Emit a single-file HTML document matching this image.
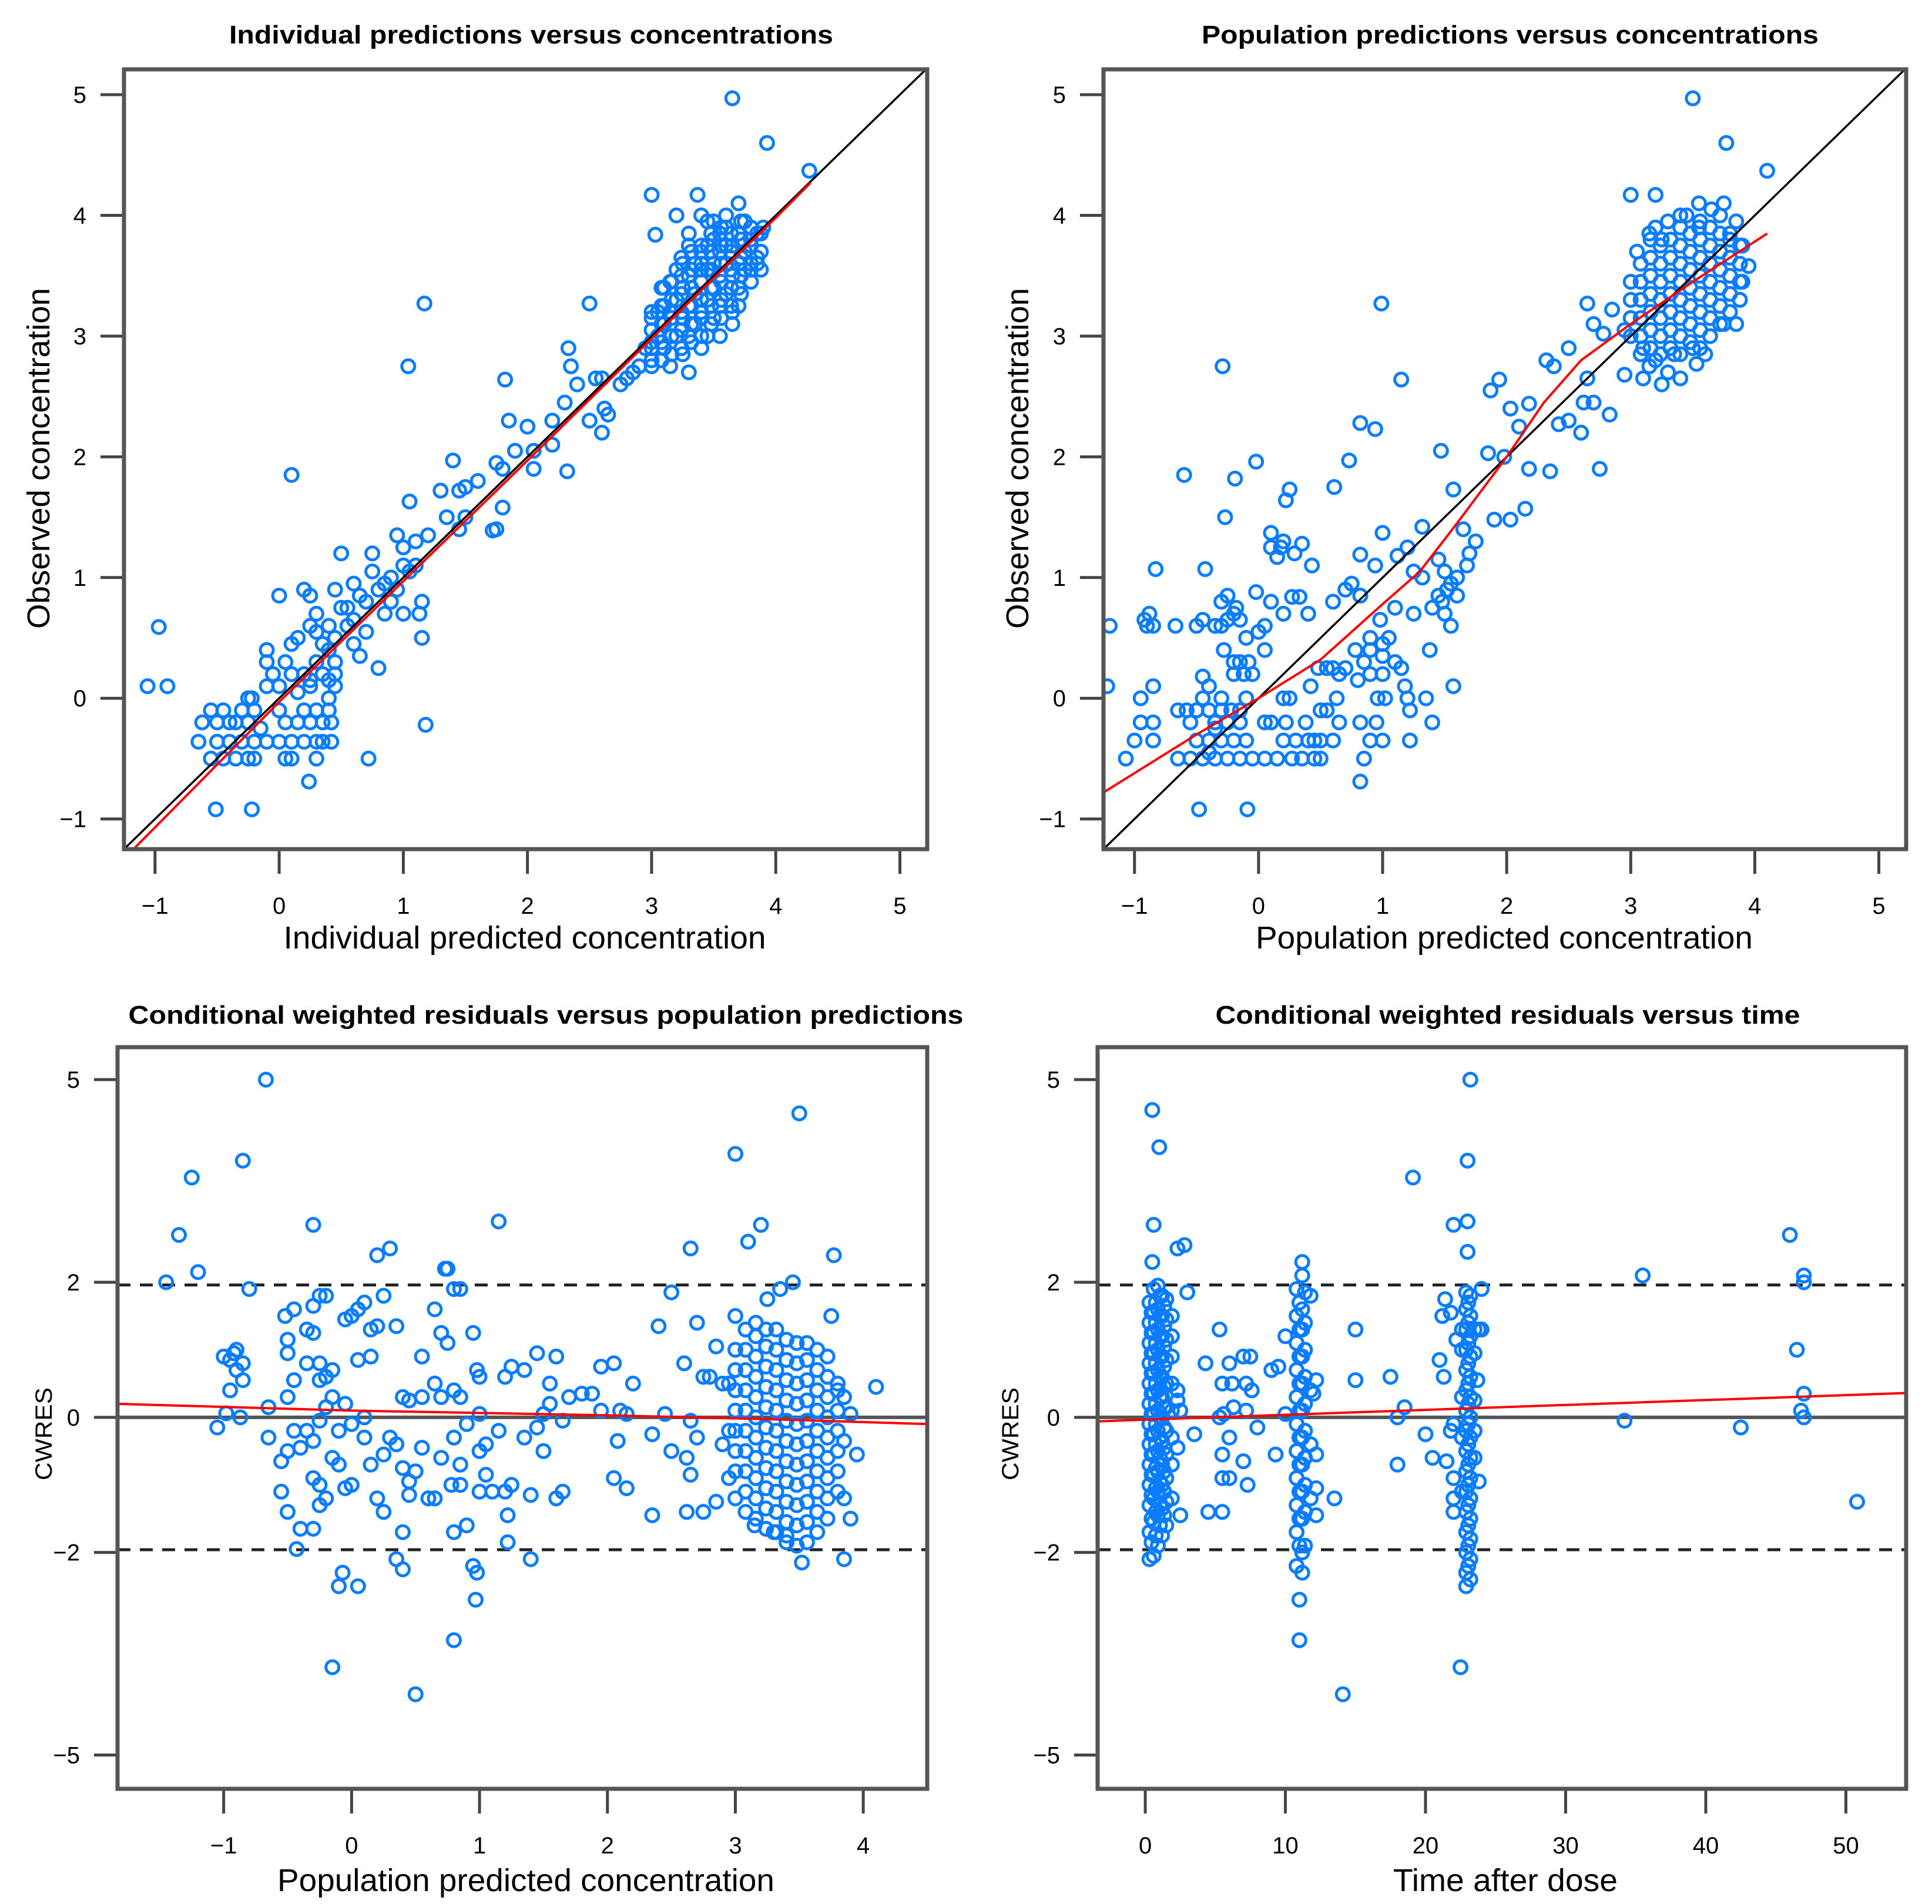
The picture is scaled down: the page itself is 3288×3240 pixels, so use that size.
<!DOCTYPE html>
<html><head><meta charset="utf-8"><title>Diagnostic plots</title>
<style>html,body{margin:0;padding:0;background:#fff}svg{display:block}text{font-family:"Liberation Sans",Arial,sans-serif;fill:#000}</style>
</head><body>
<svg id="chart" xmlns="http://www.w3.org/2000/svg" width="3288" height="3240" viewBox="0 0 3288 3240">
<rect x="0" y="0" width="3288" height="3240" fill="#fff"/>
</svg>
<script>
// ---------- Panel 1: IPRED vs DV ----------
const p1Points = [
[3.0,2.8],[3.05,3.0],[3.1,3.1],[3.1,2.9],[3.15,3.2],[3.2,3.3],[3.2,3.0],[3.25,3.4],[3.25,3.15],[3.3,3.5],[3.3,3.25],[3.3,3.0],[3.35,3.6],[3.35,3.35],[3.35,3.1],[3.4,3.7],[3.4,3.45],[3.4,3.2],[3.45,3.55],[3.45,3.3],[3.45,3.0],[3.5,3.8],[3.5,3.6],[3.5,3.4],[3.5,3.15],[3.55,3.7],[3.55,3.5],[3.55,3.25],[3.6,3.9],[3.6,3.6],[3.6,3.35],[3.65,3.75],[3.65,3.5],[3.65,3.2],[3.7,3.85],[3.7,3.6],[3.7,3.4],[3.75,3.95],[3.75,3.7],[3.8,3.8],[3.8,3.55],[3.85,3.65],[3.9,3.9],[3.2,3.55],[3.15,2.75],[3.25,2.85],[3.4,2.9],[3.3,3.75],[3.45,3.95],[3.6,4.0],[3.55,3.0],[3.65,3.1],[3.0,3.15],[2.95,2.9],[2.9,2.75],[2.85,2.7],[3.1,3.4],[3.2,4.0],[3.7,4.1],[3.85,3.6],[3.4,4.0],[3.05,3.2],[3.3,2.7],[3.45,3.75],[3.15,3.45],[3.3,3.85],[3.5,3.95],[3.55,3.85],[3.75,3.55],[3.85,3.85],[3.4,3.55],[3.25,3.6],[3.6,3.75],[3.7,3.25],[3.1,3.25],[3.0,2.95],
[2.8,2.65],[2.75,2.6],[2.6,2.65],[2.62,2.4],[2.65,2.35],[2.6,2.2],[2.5,2.3],[2.4,2.6],[2.35,2.75],[2.33,2.9],[2.3,2.45],[2.2,2.3],[2.2,2.1],[2.0,2.25],[2.05,1.9],[1.9,2.05],[1.85,2.3],[1.75,1.95],[1.8,1.9],[1.6,1.8],[1.5,1.75],[1.45,1.72],[1.4,1.97],[1.3,1.72],[1.35,1.5],[1.5,1.5],[1.45,1.4],[1.8,1.58],[1.75,1.4],[1.05,1.63],[0.95,1.35],[1.1,1.3],[1.2,1.35],[1.0,1.25],[1.1,1.1],[1.15,0.8],[1.13,0.7],[1.0,0.7],[1.15,0.5],[0.9,1.0],[0.8,0.9],[0.75,1.2],[0.75,1.05],[0.85,0.7],[0.65,0.85],[0.6,0.95],[0.55,0.6],[0.5,0.75],[0.45,0.5],[0.4,0.6],[0.5,1.2],[0.45,0.9],[0.2,0.9],[0.25,0.85],[0.3,0.7],[0.35,0.45],[0.25,0.6],[0.15,0.5],[0.1,0.45],[0.0,0.85],[-0.1,0.4],[0.6,0.45],[0.65,0.35],[0.8,0.25],[0.7,0.55],[0.95,0.9],[1.05,1.05],[0.9,0.8],[0.55,0.75],[0.7,0.8],[0.85,0.95],[1.0,1.1],[0.6,0.65],[0.4,0.4],[0.3,0.55],
[-0.55,-0.5],[-0.45,-0.5],[-0.35,-0.5],[-0.25,-0.5],[-0.2,-0.5],[0.05,-0.5],[0.1,-0.5],[0.3,-0.5],[-0.65,-0.36],[-0.4,-0.36],[-0.3,-0.36],[-0.1,-0.36],[0.0,-0.36],[0.1,-0.36],[0.2,-0.36],[0.3,-0.36],[0.42,-0.36],[-0.62,-0.2],[-0.5,-0.2],[-0.35,-0.2],[-0.25,-0.2],[0.05,-0.2],[0.15,-0.2],[0.35,-0.2],[0.42,-0.2],[-0.55,-0.1],[-0.45,-0.1],[-0.2,-0.1],[0.0,-0.1],[0.2,-0.1],[0.4,-0.1],[-0.25,0.0],[-0.22,0.0],[0.4,0.0],[-0.1,0.1],[0.0,0.1],[0.25,0.1],[0.45,0.1],[-0.05,0.2],[0.1,0.2],[0.2,0.2],[0.35,0.2],[0.45,0.2],[-0.1,0.3],[0.05,0.3],[0.3,0.3],[0.45,0.3],[0.25,0.15],[0.4,0.15],[-0.15,-0.25],[0.15,0.05],[-0.5,-0.36],[-0.2,-0.36],[0.35,-0.36],[-0.4,-0.2],[0.25,-0.2],[-0.3,-0.1],[0.3,-0.1],
[3.65,4.97],[3.93,4.6],[4.27,4.37],[3.0,4.17],[3.37,4.17],[3.03,3.84],[1.17,3.27],[1.04,2.75],[-0.97,0.59],[-1.06,0.1],[-0.9,0.1],[0.1,1.85],[1.18,-0.22],[0.72,-0.5],[-0.51,-0.92],[-0.22,-0.92],[0.24,-0.69],[2.5,3.27],[2.32,1.88],[1.82,2.64],[1.72,1.39],[2.05,2.05],[2.55,2.65]
];
const p1ClusterX = [3.0,3.08,3.16,3.24,3.32,3.4,3.48,3.56,3.64,3.72,3.8,3.88];
const p1ClusterY = [
[2.75,2.9,3.05,3.2],
[2.8,2.95,3.1,3.25,3.4],
[2.85,3.0,3.15,3.3,3.45],
[2.9,3.05,3.2,3.35,3.5,3.65],
[2.95,3.1,3.25,3.4,3.55,3.7],
[3.0,3.15,3.3,3.45,3.6,3.75],
[3.1,3.25,3.4,3.55,3.7,3.85],
[3.15,3.3,3.45,3.6,3.75,3.9],
[3.25,3.4,3.55,3.7,3.85],
[3.35,3.5,3.65,3.8,3.95],
[3.45,3.6,3.75,3.9],
[3.55,3.7,3.85]
];
const p1LoessX = [-1.25, 0, 1, 2, 3, 4, 4.28];
const p1LoessY = [-1.33, -0.03, 0.97, 1.97, 2.98, 3.98, 4.27];

// ---------- Panel 2: PRED vs DV ----------
const p2Points = [
[3.5,4.97],[3.77,4.6],[4.1,4.37],[3.0,4.17],[3.2,4.17],[0.99,3.27],[-0.29,2.75],[1.15,2.64],[-0.6,1.85],[-0.19,1.82],[-0.02,1.96],[-0.27,1.5],[0.82,2.28],[0.94,2.23],[0.73,1.97],[0.61,1.75],[0.25,1.73],[0.22,1.64],[1.47,2.05],[1.57,1.73],[1.94,2.64],[1.87,2.55],[2.03,2.4],[2.18,2.44],[2.1,2.25],[1.85,2.03],[1.98,2.0],[2.18,1.9],[2.35,1.88],[1.9,1.48],[2.03,1.48],[2.15,1.57],[2.75,1.9],[2.83,2.35],[2.6,2.2],[2.62,2.45],[2.7,2.45],[2.5,2.3],[2.42,2.27],[2.32,2.8],[2.38,2.75],[2.5,2.9],[2.65,2.65],[2.65,3.27],[2.7,3.1],[2.78,3.02],[2.85,3.22],[2.95,2.68],[3.1,2.65],[3.25,2.6],[3.4,2.65],[3.53,2.77],[3.85,3.1],[3.95,3.58],
[3.05,3.7],[3.15,3.85],[3.25,3.8],[3.3,3.95],[3.45,4.0],[3.55,3.9],[3.65,4.05],[3.75,4.1],[3.8,3.85],[3.9,3.75],[3.9,3.45],[3.6,2.85],[3.3,2.7],[3.15,2.75],[3.2,2.8],[3.5,2.9],[3.35,2.85],[3.4,4.0],[3.2,3.9],[3.55,4.1],[3.75,3.1],[3.1,2.9],[2.95,3.05],[3.85,3.95],
[0.1,1.37],[0.1,1.25],[0.18,1.25],[0.15,1.17],[0.2,1.3],[0.35,1.28],[0.29,1.2],[0.43,1.1],[0.82,1.19],[0.94,1.1],[1.0,1.37],[1.12,1.18],[1.2,1.25],[1.32,1.42],[1.32,1.0],[1.25,1.05],[1.45,1.15],[1.5,1.05],[1.55,0.95],[1.6,1.0],[1.65,1.4],[1.7,1.2],[1.75,1.3],[1.68,1.1],[1.45,0.85],[1.4,0.75],[1.5,0.7],[1.55,0.6],[1.38,0.4],[1.25,0.7],[1.57,0.1],[1.1,0.75],[0.98,0.65],[0.9,0.5],[1.0,0.45],[1.05,0.5],[0.75,0.95],[0.7,0.9],[0.6,0.8],[0.4,0.7],[0.2,0.7],[0.1,0.8],[-0.02,0.88],[0.27,0.84],[0.33,0.84],[0.82,0.85],[0.85,0.3],[0.78,0.4],[0.65,0.2],[0.7,0.25],[0.55,0.25],[0.48,0.25],[0.8,0.15],[0.9,0.2],[1.0,0.2],[1.15,0.25],[1.18,0.1],[1.2,0.0],[1.35,0.0],[1.02,0.0],[0.96,0.0],[0.25,0.0],[0.2,0.0],[0.42,0.1],[0.6,0.25],[0.9,0.4],[1.0,0.35],[1.1,0.3],[1.22,-0.1],[1.4,-0.2],[0.5,-0.1],[0.55,-0.1],[0.65,-0.2],[0.82,-0.2],[0.95,-0.2],[1.0,-0.35],[0.9,-0.35],[1.22,-0.35],[0.6,-0.35],[0.4,-0.35],[0.3,-0.35],[0.27,-0.5],[0.35,-0.5],[0.45,-0.5],[0.5,-0.5],[0.85,-0.5],[0.82,-0.69],[0.15,-0.5],[0.05,-0.5],[0.1,-0.2],[0.22,-0.2],[0.38,-0.2],[0.45,-0.35],[0.5,-0.35],[0.63,0.0],[0.2,-0.35],[1.52,0.9],[1.48,0.8],[1.6,0.85],
[-1.22,0.1],[-1.2,0.6],[-1.07,-0.5],[-0.9,0.6],[-0.92,0.65],[-0.88,0.7],[-0.85,0.6],[-0.83,1.07],[-0.67,0.6],[-0.43,1.07],[-0.5,0.6],[-0.45,0.65],[-0.35,0.6],[-0.3,0.6],[-0.25,0.65],[-0.2,0.7],[-0.18,0.75],[-0.3,0.8],[-0.25,0.85],[-0.15,0.65],[-0.28,0.4],[-0.1,0.5],[0.0,0.55],[0.05,0.6],[0.05,0.4],[-0.2,0.3],[-0.15,0.3],[-0.08,0.3],[-0.05,0.2],[-0.2,0.2],[-0.12,0.2],[-0.45,0.18],[-0.4,0.1],[-0.85,0.1],[-0.95,0.0],[-0.65,-0.1],[-0.58,-0.1],[-0.5,-0.1],[-0.4,-0.1],[-0.3,-0.1],[-0.22,-0.1],[-0.15,-0.1],[-0.45,0.0],[-0.3,0.0],[-0.1,0.0],[-0.95,-0.2],[-0.85,-0.2],[-0.55,-0.2],[-0.35,-0.2],[-0.25,-0.2],[-0.15,-0.2],[0.05,-0.2],[-1.0,-0.35],[-0.85,-0.35],[-0.5,-0.35],[-0.4,-0.35],[-0.3,-0.35],[-0.2,-0.35],[-0.1,-0.35],[-0.65,-0.5],[-0.55,-0.5],[-0.45,-0.5],[-0.35,-0.5],[-0.25,-0.5],[-0.15,-0.5],[-0.05,-0.5],[-0.48,-0.92],[-0.09,-0.92],[-0.35,-0.25],[-0.4,-0.45]
];
const p2ClusterX = [3.0,3.08,3.16,3.24,3.32,3.4,3.48,3.56,3.64,3.72,3.8,3.88];
const p2ClusterY = [
[3.0,3.15,3.3,3.45],
[2.85,3.0,3.15,3.3,3.45,3.6],
[2.9,3.05,3.2,3.35,3.5,3.65,3.8],
[2.85,3.0,3.15,3.3,3.45,3.6,3.75],
[2.9,3.05,3.2,3.35,3.5,3.65,3.8],
[2.85,3.0,3.15,3.3,3.45,3.6,3.75,3.9],
[2.95,3.1,3.25,3.4,3.55,3.7,3.85],
[2.9,3.05,3.2,3.35,3.5,3.65,3.8,3.95],
[3.0,3.15,3.3,3.45,3.6,3.75,3.9],
[3.1,3.25,3.4,3.55,3.7,3.85,4.0],
[3.2,3.35,3.5,3.65,3.8],
[3.3,3.45,3.6,3.75]
];
const p2LoessX = [-1.25, -0.5, 0, 0.5, 1.0, 1.3, 1.6, 2.0, 2.3, 2.6, 3.0, 3.5, 4.1];
const p2LoessY = [-0.78, -0.3, 0.0, 0.32, 0.78, 1.05, 1.45, 2.0, 2.45, 2.8, 3.1, 3.45, 3.85];

// ---------- Panel 3: PRED vs CWRES ----------
const p3Points = [
[-0.67,5.0],[-0.85,3.8],[-1.25,3.55],[-1.35,2.7],[-1.2,2.15],[-1.45,2.0],[-0.8,1.9],[-0.3,2.85],[0.2,2.4],[0.3,2.5],[1.15,2.9],[0.73,2.2],[0.75,2.2],[0.8,1.9],[0.85,1.9],[3.0,3.9],[3.5,4.5],[3.2,2.85],[3.1,2.6],[2.65,2.5],[3.77,2.4],[2.5,1.85],[3.45,2.0],[3.35,1.9],[3.25,1.75],[3.0,1.5],[2.4,1.35],[2.7,1.4],[3.75,1.5],[-0.15,-3.7],[0.5,-4.1],[0.8,-3.3],[0.97,-2.7],[0.95,-2.2],[0.98,-2.3],[-0.1,-2.5],[0.05,-2.5],[0.35,-2.1],[0.4,-2.25],[-0.07,-2.3],[1.4,-2.1],[0.8,-1.7],[0.9,-1.6],[1.22,-1.85],[-0.43,-1.95],[-0.4,-1.65],[3.52,-2.15],[3.85,-2.1],[3.3,-1.7],[3.4,-1.75],[3.15,-1.6],
[-1.05,-0.15],[-0.98,0.06],[-1.0,0.9],[-0.95,0.85],[-0.92,0.95],[-0.9,1.0],[-0.85,0.8],[-0.9,0.7],[-0.95,0.4],[-0.85,0.55],[-0.87,0.0],[-0.65,0.15],[-0.65,-0.3],
[-0.55,-1.1],[-0.5,-1.4],[-0.55,-0.65],[-0.5,-0.5],[-0.45,-0.2],[-0.5,0.3],[-0.45,0.55],[-0.5,0.95],[-0.5,1.15],[-0.45,1.6],[-0.52,1.5],[-0.35,0.8],[-0.35,1.3],[-0.3,1.25],[-0.3,1.65],[-0.25,1.8],[-0.2,1.8],[-0.25,0.8],[-0.25,0.55],[-0.2,0.6],[-0.15,0.7],[-0.35,-0.2],[-0.3,-0.35],[-0.25,-0.05],[-0.2,0.15],[-0.3,-0.9],[-0.25,-1.0],[-0.25,-1.3],[-0.2,-1.2],[-0.15,-0.6],[-0.1,-0.7],[-0.3,-1.65],[-0.4,-0.45],[-0.15,0.3],[-0.1,-0.2],[-0.05,1.45],[0.0,1.5],[-0.05,0.2],[0.0,-0.1],[0.0,-1.0],[-0.05,-1.05],[0.05,0.85],[0.05,1.6],[0.1,1.7],[0.1,0.0],[0.1,-0.3],[0.15,-0.7],[0.15,1.3],[0.2,1.35],[0.15,0.9],[0.25,-0.55],[0.2,-1.2],[0.25,-1.4],[0.25,1.8],[0.3,-0.3],[0.35,1.35],[0.35,-0.4],[0.4,0.3],[0.45,0.25],[0.4,-0.75],[0.45,-0.95],[0.45,-1.15],[0.5,-0.8],[0.4,-1.7],[0.55,0.9],[0.55,0.3],[0.55,-0.45],[0.6,-1.2],[0.65,-1.2],[0.65,0.5],[0.7,1.25],[0.65,1.6],[0.7,0.3],[0.7,-0.6],[0.75,1.1],[0.78,-1.0],[0.8,-0.3],[0.8,0.4],[0.85,0.3],[0.85,-0.7],[0.85,-1.0],[0.9,-0.1],[0.95,1.25],[0.98,0.7],[1.0,0.6],[1.0,0.05],[1.0,-0.5],[1.0,-1.1],[1.05,-0.4],[1.05,-0.85],[1.1,-1.1],[1.15,-0.2],[1.2,0.6],[1.25,0.75],[1.2,-1.1],[1.22,-1.45],[1.25,-1.0],[1.35,0.7],[1.35,-0.3],[1.4,-1.15],[1.45,0.95],[1.45,-0.15],[1.5,-0.5],[1.5,0.05],[1.55,0.5],[1.55,0.2],[1.6,-1.2],[1.6,0.9],[1.65,-1.1],[1.65,-0.05],[1.7,0.3],[1.8,0.35],[1.88,0.35],[1.95,0.1],[1.95,0.75],[2.05,0.8],[2.05,-0.9],[2.08,-0.35],[2.15,-1.05],[2.1,0.1],[2.2,0.5],[2.15,0.05],[2.35,-0.25],[2.35,-1.45],[2.45,0.05],[2.5,-0.5],[2.6,0.8],[2.62,-0.6],[2.62,-1.4],[2.65,-0.85],[2.7,-0.3],[2.75,-1.4],[2.75,0.6],[2.8,0.6],[2.85,-1.25],[2.85,1.05],[2.9,0.5],[2.95,-0.9],[2.9,-0.4],[2.65,-0.05],
[3.85,-0.35],[3.9,0.05],[4.1,0.45],[3.95,-0.55],[3.9,-1.5],[3.85,-1.2],[3.8,0.5],[3.85,0.3],[2.95,0.5],[2.95,-0.2],[3.0,-1.2]
];
const p3ClusterX = [3.0,3.08,3.16,3.24,3.32,3.4,3.48,3.56,3.64,3.72,3.8];
const p3ClusterY = [
[-0.8,-0.5,-0.2,0.1,0.4,0.7,1.0],
[-1.4,-1.1,-0.8,-0.5,-0.2,0.1,0.4,0.7,1.0,1.3],
[-1.5,-1.2,-0.9,-0.6,-0.3,0.0,0.3,0.6,0.9,1.2,1.4],
[-1.65,-1.35,-1.05,-0.75,-0.45,-0.15,0.15,0.45,0.75,1.05,1.3],
[-1.7,-1.4,-1.1,-0.8,-0.5,-0.2,0.1,0.4,0.7,1.0,1.3],
[-1.85,-1.55,-1.25,-0.95,-0.65,-0.35,-0.05,0.25,0.55,0.85,1.15],
[-1.9,-1.6,-1.3,-1.0,-0.7,-0.4,-0.1,0.2,0.5,0.8,1.1],
[-1.85,-1.55,-1.25,-0.95,-0.65,-0.35,-0.05,0.25,0.55,0.85,1.1],
[-1.7,-1.4,-1.1,-0.8,-0.5,-0.2,0.1,0.4,0.7,1.0],
[-1.5,-1.2,-0.9,-0.6,-0.3,0.0,0.3,0.6,0.9],
[-1.1,-0.8,-0.5,-0.2,0.1,0.4]
];
const p3LoessX = [-1.83, 0, 2, 3.3, 4.5];
const p3LoessY = [0.2, 0.1, 0.03, -0.03, -0.1];

// ---------- Panel 4: TIME vs CWRES ----------
const p4Points = [
[0.5,4.55],[1.0,4.0],[0.6,2.85],[0.5,2.3],[2.3,2.5],[2.8,2.55],[3.0,1.85],[19.1,3.55],[23.0,3.8],[23.2,5.0],[22.0,2.85],[23.0,2.9],[23.0,2.45],[46.0,2.7],[47.0,2.1],[47.0,2.0],[35.5,2.1],[34.2,-0.05],[42.5,-0.15],[50.8,-1.25],[46.5,1.0],[47.0,0.35],[46.8,0.1],[47.0,0.0],[14.1,-4.1],[22.5,-3.7],[11.0,-3.3],[11.0,-2.7],[24.0,1.9],[24.0,1.3],[17.5,0.6],[15.0,1.3],[15.0,0.55],[13.5,-1.2],[18.0,-0.7],[18.5,0.15],[18.0,0.0],[20.0,-0.25],[20.5,-0.6],
[4.3,0.8],[5.3,1.3],[5.5,0.5],[6.0,0.8],[6.2,0.5],[5.3,0.0],[5.6,0.05],[6.3,0.15],[5.5,-0.55],[6.0,-0.3],[7.2,0.5],[7.5,0.9],[7.0,0.9],[7.2,0.1],[7.6,0.4],[8.0,-0.15],[7.0,-0.65],[7.3,-1.0],[5.5,-1.4],[4.5,-1.4],[5.5,-0.9],[6.0,-0.9],[9.0,0.7],[9.5,0.75],[9.3,-0.55],[10.0,0.05],[10.0,1.2],[3.5,-0.25],[2.3,0.25],[2.5,0.1],[2.5,-1.45],
[21.2,1.5],[21.4,1.75],[21.0,0.85],[21.3,0.6],[21.8,1.55],[22.2,1.15],[22.0,-0.1],[21.8,-0.2],[22.0,-0.9],[22.0,-1.2],[22.0,-1.4],[21.5,-0.65],[23.8,-0.95],[23.8,1.3],[23.7,0.55],[12.2,0.55],[12.0,0.35]
];
const p4ColumnT = [0.3,0.45,0.6,0.75,0.9,1.05,1.2,1.35,1.5,1.9,2.3,10.8,11.0,11.2,11.4,11.8,12.2,22.9,23.05,23.2,22.6,23.5];
const p4ColumnY = [
[-2.1,-1.7,-1.3,-1.0,-0.7,-0.4,-0.1,0.2,0.5,0.8,1.1,1.4,1.7],
[-1.85,-1.5,-1.15,-0.85,-0.55,-0.25,0.05,0.35,0.65,0.95,1.25,1.55],
[-2.05,-1.55,-1.2,-0.85,-0.55,-0.25,0.05,0.35,0.65,0.95,1.25,1.55,1.9],
[-1.75,-1.4,-1.05,-0.75,-0.4,-0.1,0.2,0.5,0.8,1.1,1.4,1.7],
[-1.9,-1.45,-1.1,-0.8,-0.5,-0.2,0.1,0.4,0.7,1.0,1.3,1.6,1.95],
[-1.6,-1.3,-0.95,-0.6,-0.3,0.0,0.3,0.6,0.9,1.2,1.5,1.8],
[-1.75,-1.35,-1.0,-0.7,-0.35,0.0,0.3,0.6,0.9,1.2,1.5,1.8],
[-1.45,-1.1,-0.8,-0.45,-0.15,0.15,0.45,0.75,1.05,1.35,1.65],
[-1.6,-1.25,-0.9,-0.55,-0.2,0.15,0.5,0.85,1.15,1.45,1.75],
[-1.2,-0.7,-0.3,0.1,0.5,0.9,1.2,1.5],
[-0.45,0.4],
[-2.2,-1.7,-1.3,-0.9,-0.5,-0.1,0.3,0.7,1.1,1.5,1.9],
[-1.9,-1.5,-1.1,-0.7,-0.3,0.1,0.5,0.9,1.3,1.7],
[-2.3,-2.0,-1.5,-1.1,-0.7,-0.3,0.1,0.5,0.9,1.3,1.6,2.1,2.3],
[-1.9,-1.4,-1.0,-0.6,-0.2,0.2,0.6,1.0,1.4,1.85],
[-1.2,-0.4,0.4,1.8],
[-1.45,-0.55,-1.05],
[-2.5,-2.3,-2.0,-1.7,-1.4,-1.1,-0.8,-0.5,-0.2,0.1,0.4,0.7,1.0,1.3,1.6,1.85],
[-2.2,-1.9,-1.6,-1.3,-1.0,-0.7,-0.4,-0.1,0.2,0.5,0.8,1.1,1.4,1.7],
[-2.4,-2.1,-1.8,-1.5,-1.2,-0.9,-0.6,-0.3,0.0,0.3,0.6,0.9,1.2,1.5,1.8],
[-1.1,-0.3,0.3,1.0,1.3],
[-0.6,-0.2,0.25,0.95,1.3]
];
const p4LoessX = [-3.4, 54.3];
const p4LoessY = [-0.06, 0.36];

// tick values
const topTicks = [-1,0,1,2,3,4,5];
const cwresTicks = [-5,-2,0,2,5];
const p3XTicks = [-1,0,1,2,3,4];
const p4XTicks = [0,10,20,30,40,50];

const NS = "http://www.w3.org/2000/svg";
const svg = document.getElementById("chart");

const panels = [
 {id:"ipred-panel", x0:211,y0:118,x1:1578,y1:1445, xmin:-1.25,xmax:5.22,ymin:-1.25,ymax:5.21,
  title:"Individual predictions versus concentrations", tcx:904, tlen:1028, tby:74,
  xlab:"Individual predicted concentration", xcx:893, xlen:821, xby:1614,
  ylab:"Observed concentration", ycx:84, ycy:780, ylen:580, ysize:54,
  xt:topTicks, yt:topTicks, pts:p1Points, cx:p1ClusterX, cy:p1ClusterY, lx:p1LoessX, ly:p1LoessY, identity:true},
 {id:"pred-panel", x0:1878,y0:118,x1:3244,y1:1445, xmin:-1.25,xmax:5.22,ymin:-1.25,ymax:5.21,
  title:"Population predictions versus concentrations", tcx:2570, tlen:1050, tby:74,
  xlab:"Population predicted concentration", xcx:2560, xlen:846, xby:1614,
  ylab:"Observed concentration", ycx:1750, ycy:780, ylen:580, ysize:54,
  xt:topTicks, yt:topTicks, pts:p2Points, cx:p2ClusterX, cy:p2ClusterY, lx:p2LoessX, ly:p2LoessY, identity:true},
 {id:"cwres-pred-panel", x0:200,y0:1782,x1:1578,y1:3044, xmin:-1.83,xmax:4.5,ymin:-5.5,ymax:5.48,
  title:"Conditional weighted residuals versus population predictions", tcx:929, tlen:1421, tby:1742,
  xlab:"Population predicted concentration", xcx:895, xlen:846, xby:3218,
  ylab:"CWRES", ycx:88, ycy:2440, ylen:158, ysize:40,
  xt:p3XTicks, yt:cwresTicks, pts:p3Points, cx:p3ClusterX, cy:p3ClusterY, lx:p3LoessX, ly:p3LoessY, resid:true},
 {id:"cwres-time-panel", x0:1868,y0:1782,x1:3244,y1:3044, xmin:-3.4,xmax:54.3,ymin:-5.5,ymax:5.48,
  title:"Conditional weighted residuals versus time", tcx:2566, tlen:995, tby:1742,
  xlab:"Time after dose", xcx:2562, xlen:382, xby:3218,
  ylab:"CWRES", ycx:1733, ycy:2440, ylen:158, ysize:40,
  xt:p4XTicks, yt:cwresTicks, pts:p4Points, cx:p4ColumnT, cy:p4ColumnY, lx:p4LoessX, ly:p4LoessY, resid:true}
];

function sx(p,v){return p.x0+(v-p.xmin)/(p.xmax-p.xmin)*(p.x1-p.x0);}
function sy(p,v){return p.y1-(v-p.ymin)/(p.ymax-p.ymin)*(p.y1-p.y0);}
function el(tag,parent){const e=document.createElementNS(NS,tag);parent.appendChild(e);return e;}
function line(parent,x1,y1,x2,y2,stroke,w){const l=el("line",parent);l.setAttribute("x1",x1);l.setAttribute("y1",y1);l.setAttribute("x2",x2);l.setAttribute("y2",y2);l.setAttribute("stroke",stroke);l.setAttribute("stroke-width",w);return l;}

const defs = el("defs", svg);

panels.forEach((p,pi)=>{
  const g = el("g", svg);
  
  

  const cp = el("clipPath", defs);
  cp.setAttribute("id","clip"+pi);
  const cr = el("rect", cp);
  cr.setAttribute("x",p.x0);cr.setAttribute("y",p.y0);cr.setAttribute("width",p.x1-p.x0);cr.setAttribute("height",p.y1-p.y0);

  const t = el("text", g);
  
  
  t.setAttribute("x",p.tcx);t.setAttribute("y",p.tby);t.setAttribute("text-anchor","middle");
  t.setAttribute("font-size","44");t.setAttribute("font-weight","bold");
  t.setAttribute("textLength",p.tlen);t.setAttribute("lengthAdjust","spacingAndGlyphs");
  t.textContent = p.title;

  const xl = el("text", g);
  
  
  xl.setAttribute("x",p.xcx);xl.setAttribute("y",p.xby);xl.setAttribute("text-anchor","middle");
  xl.setAttribute("font-size","54");xl.setAttribute("textLength",p.xlen);xl.setAttribute("lengthAdjust","spacingAndGlyphs");
  xl.textContent = p.xlab;

  const yl = el("text", g);
  
  
  yl.setAttribute("x",0);yl.setAttribute("y",0);yl.setAttribute("text-anchor","middle");
  yl.setAttribute("transform","translate("+p.ycx+","+p.ycy+") rotate(-90)");
  yl.setAttribute("font-size",p.ysize);yl.setAttribute("textLength",p.ylen);yl.setAttribute("lengthAdjust","spacingAndGlyphs");
  yl.textContent = p.ylab;

  p.xt.forEach(v=>{
    const x = sx(p,v);
    const tk = line(g,x,p.y1,x,p.y1+42,"#444",5);
    
    
    const tl = el("text", g);
    
    
    tl.setAttribute("x",x);tl.setAttribute("y",p.y1+110);tl.setAttribute("text-anchor","middle");tl.setAttribute("font-size","40");
    tl.textContent = v<0 ? "\u2212"+Math.abs(v) : String(v);
  });
  p.yt.forEach(v=>{
    const y = sy(p,v);
    const tk = line(g,p.x0-40,y,p.x0,y,"#444",5);
    
    
    const tl = el("text", g);
    
    
    tl.setAttribute("x",p.x0-64);tl.setAttribute("y",y+14);tl.setAttribute("text-anchor","end");tl.setAttribute("font-size","40");
    tl.textContent = v<0 ? "\u2212"+Math.abs(v) : String(v);
  });

  const plot = el("g", g);
  
  
  plot.setAttribute("clip-path","url(#clip"+pi+")");

  if (p.resid) {
    const zl = line(plot,p.x0,sy(p,0),p.x1,sy(p,0),"#555",6);
    
    
    [1.96,-1.96].forEach(v=>{
      const dl = line(plot,p.x0,sy(p,v),p.x1,sy(p,v),"#222",5);
      dl.setAttribute("stroke-dasharray","22 16");
      
      
    });
  }

  const pg = el("g", plot);
  
  
  pg.setAttribute("fill","none");pg.setAttribute("stroke","#0a7cff");pg.setAttribute("stroke-width","5");
  const drawPt = (xv,yv)=>{
    const c = el("circle", pg);
    
    
    c.setAttribute("cx",sx(p,xv).toFixed(1));c.setAttribute("cy",sy(p,yv).toFixed(1));c.setAttribute("r","11");
  };
  p.pts.forEach(d=>drawPt(d[0],d[1]));
  if (p.cx) p.cx.forEach((xv,i)=>p.cy[i].forEach(yv=>drawPt(xv,yv)));

  if (p.identity) {
    const il = line(plot,sx(p,p.xmin),sy(p,p.xmin),sx(p,p.xmax),sy(p,p.xmax),"#000",3.5);
    
    
  }
  const lo = el("polyline", plot);
  
  
  lo.setAttribute("points", p.lx.map((xv,i)=>sx(p,xv).toFixed(1)+","+sy(p,p.ly[i]).toFixed(1)).join(" "));
  lo.setAttribute("fill","none");lo.setAttribute("stroke","#ff0000");lo.setAttribute("stroke-width","4");

  const fr = el("rect", g);
  
  
  fr.setAttribute("x",p.x0);fr.setAttribute("y",p.y0);fr.setAttribute("width",p.x1-p.x0);fr.setAttribute("height",p.y1-p.y0);
  fr.setAttribute("fill","none");fr.setAttribute("stroke","#555");fr.setAttribute("stroke-width","7");
});
</script>
</body></html>
